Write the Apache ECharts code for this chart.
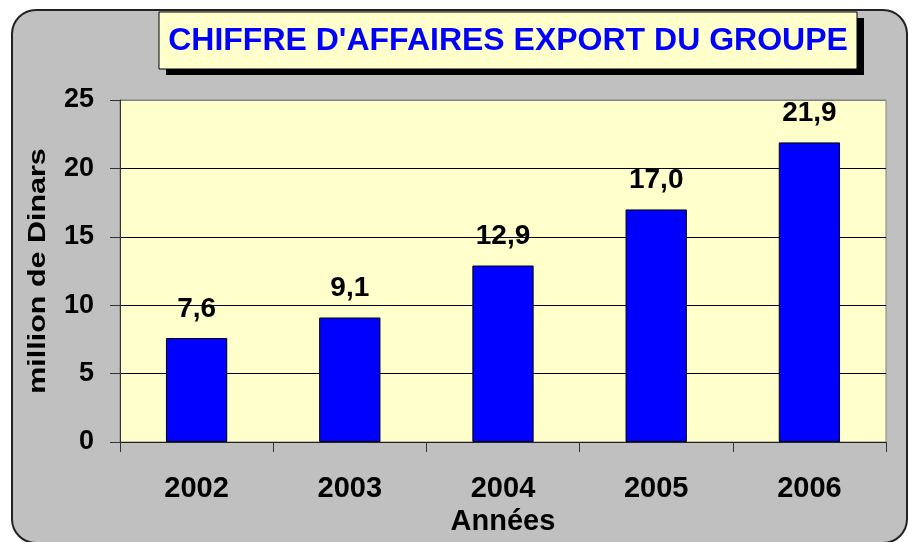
<!DOCTYPE html>
<html>
<head>
<meta charset="utf-8">
<script src="https://cdn.jsdelivr.net/npm/echarts@6/dist/echarts.min.js"></script>
<style>html,body{margin:0;padding:0;background:#fff;}#c{width:908px;height:542px;}</style>
</head>
<body>
<div id="c"></div>
<script>
var categories = ['2002', '2003', '2004', '2005', '2006'];
var values = [7.6, 9.1, 12.9, 17.0, 21.9];
var yTicks = [0, 5, 10, 15, 20, 25];
var titleText = "CHIFFRE D'AFFAIRES EXPORT DU GROUPE";
var yName = 'million de Dinars';
var xName = 'Années';

var FONT = "'Liberation Sans', Arial, sans-serif";
var chart = echarts.init(document.getElementById('c'), null, {renderer: 'canvas'});
chart.setOption({
  backgroundColor: '#ffffff',
  animation: false,
  graphic: [
    {type: 'rect', z: -10, shape: {x: 12, y: 10, width: 895, height: 533, r: 24},
     style: {fill: '#C0C0C0', stroke: '#222', lineWidth: 2}},
    {type: 'rect', z: 10, shape: {x: 166, y: 18, width: 698, height: 57},
     style: {fill: '#000'}},
    {type: 'rect', z: 11, shape: {x: 159, y: 12, width: 698, height: 57},
     style: {fill: '#FFFFCC', stroke: '#000', lineWidth: 1}},
    {type: 'text', z: 12, x: 508, y: 41,
     style: {text: titleText, fill: '#0000FF', font: 'bold 32px ' + FONT,
             textAlign: 'center', textVerticalAlign: 'middle'}},
    {type: 'text', z: 12, x: 38, y: 271, rotation: Math.PI / 2, scaleX: 1.27,
     style: {text: yName, fill: '#000', font: 'bold 24px ' + FONT,
             textAlign: 'center', textVerticalAlign: 'middle'}}
  ],
  grid: {left: 120, right: 22, top: 100, bottom: 100, show: true,
         backgroundColor: '#FFFFCC', borderColor: '#808080', borderWidth: 1},
  xAxis: {
    type: 'category', data: categories,
    name: xName, nameLocation: 'middle', nameGap: 60,
    nameTextStyle: {fontFamily: FONT, fontWeight: 'bold', fontSize: 29, color: '#000'},
    axisLine: {lineStyle: {color: '#222', width: 1}},
    axisTick: {show: true, length: 10, lineStyle: {color: '#333'}},
    axisLabel: {fontFamily: FONT, fontWeight: 'bold', fontSize: 29, color: '#000', margin: 32}
  },
  yAxis: {
    type: 'value', min: yTicks[0], max: yTicks[yTicks.length - 1], interval: 5,
    axisLine: {show: true, lineStyle: {color: '#333', width: 1}},
    axisTick: {show: true, length: 10, lineStyle: {color: '#333'}},
    axisLabel: {fontFamily: FONT, fontWeight: 'bold', fontSize: 27, color: '#000', margin: 26},
    splitLine: {show: true, lineStyle: {color: ['#000', '#000', '#000', '#000', '#000', '#808080'], width: 1}}
  },
  series: [{
    type: 'bar', data: values, barWidth: '40%',
    itemStyle: {color: '#0000FF', borderColor: '#000', borderWidth: 1},
    label: {show: true, position: 'top', distance: 15,
            fontFamily: FONT, fontWeight: 'bold', fontSize: 28, color: '#000',
            formatter: function (p) { return p.value.toFixed(1).replace('.', ','); }}
  }]
});
</script>
</body>
</html>
